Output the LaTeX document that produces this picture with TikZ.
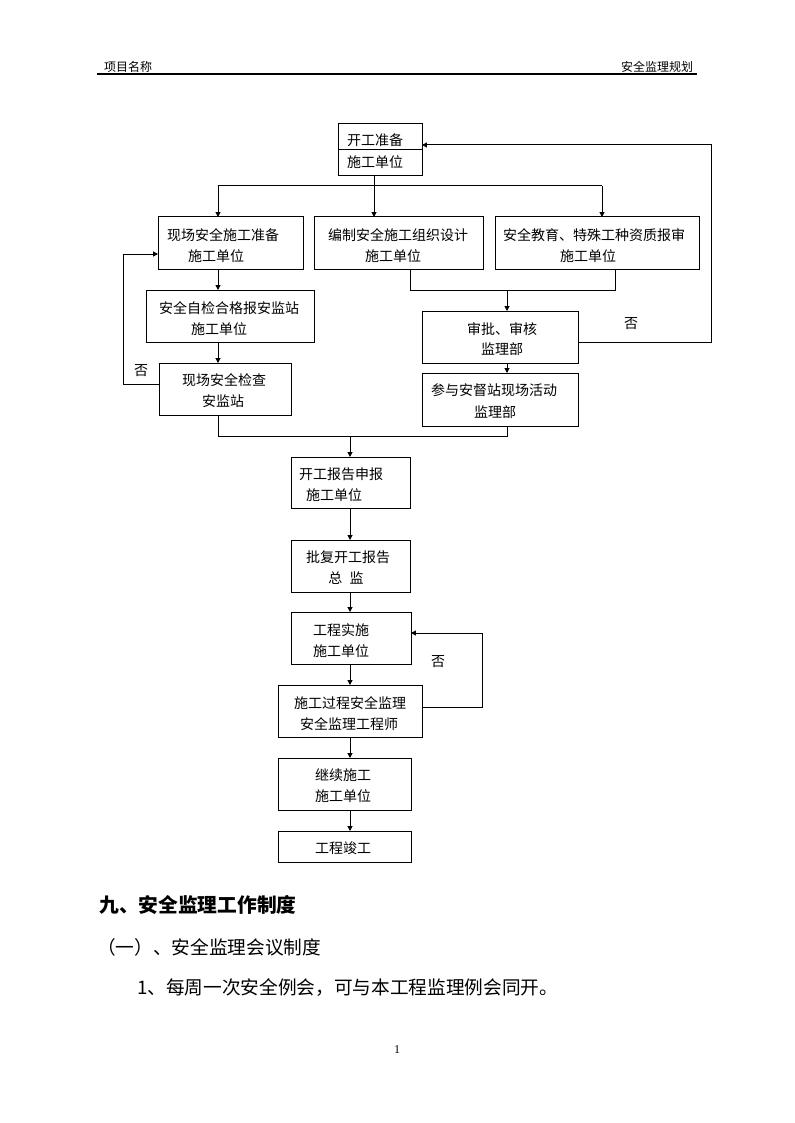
\documentclass[tikz,border=0pt]{standalone}
\usepackage{fontspec}
\setmainfont{Liberation Serif}
\newfontfamily\cjk{Noto Sans CJK SC}
\usetikzlibrary{arrows.meta}
\newcommand\bx[5]{\node[box, minimum width={(#4-#2)*0.75pt}, minimum height={(#5-#3)*0.75pt}] (#1) at ({(#2+#4)/2},{(#3+#5)/2}) {};}
\newcommand\tx[4]{\node[lbl] (#1) at (#2,#3) {#4};}
\begin{document}
\begin{tikzpicture}[x=0.75pt,y=-0.75pt,
  box/.style={draw, line width=0.75pt, inner sep=0pt, outer sep=0pt},
  lbl/.style={font=\cjk\fontsize{10.5pt}{12pt}\selectfont, inner sep=0pt},
  hdr/.style={font=\cjk\fontsize{9pt}{11pt}\selectfont, inner sep=0pt},
  body/.style={font=\cjk\fontsize{14pt}{16pt}\selectfont, inner sep=0pt, anchor=west},
  ln/.style={line width=0.75pt},
  arr/.style={ln, -{Triangle[length=3.6pt,width=3.6pt]}}]
\useasboundingbox (0,0) rectangle (794,1123);
\fill[white] (0,0) rectangle (794,1123);

% header
\node[hdr] (h1) at (128,67) {项目名称};
\node[hdr] (h2) at (657,67) {安全监理规划};
\coordinate (hl) at (97,74);
\coordinate (hr) at (697,74);
\draw[line width=1.1pt] (hl) -- (hr);

% boxes
\bx{A}{338}{124}{422}{176}
\draw[ln] (A.west) -- (A.east);
\tx{tA1}{375}{140}{开工准备}
\tx{tA2}{375}{162}{施工单位}

\bx{B1}{158}{217}{303}{269}
\tx{tB1a}{223}{235}{现场安全施工准备}
\tx{tB1b}{216}{256}{施工单位}
\bx{B2}{314}{217}{483}{269}
\tx{tB2a}{398}{235}{编制安全施工组织设计}
\tx{tB2b}{393}{256}{施工单位}
\bx{B3}{495}{217}{699}{269}
\tx{tB3a}{594}{235}{安全教育、特殊工种资质报审}
\tx{tB3b}{588}{256}{施工单位}

\bx{C1}{146}{290}{314}{342}
\tx{tC1a}{229}{308}{安全自检合格报安监站}
\tx{tC1b}{219}{329}{施工单位}
\bx{C2}{159}{363}{291}{415}
\tx{tC2a}{224}{380}{现场安全检查}
\tx{tC2b}{223}{401}{安监站}

\bx{D1}{422}{311}{578}{363}
\tx{tD1a}{502}{329}{审批、审核}
\tx{tD1b}{502}{349}{监理部}
\bx{D2}{422}{373}{578}{426}
\tx{tD2a}{494}{390}{参与安督站现场活动}
\tx{tD2b}{495}{412}{监理部}

\bx{E1}{291}{457}{410}{508}
\tx{tE1a}{341}{474}{开工报告申报}
\tx{tE1b}{334}{495}{施工单位}
\bx{E2}{291}{540}{410}{592}
\tx{tE2a}{348}{557}{批复开工报告}
\tx{tE2b}{346}{578}{总\hspace{5.5pt}监}
\bx{E3}{291}{612}{411}{664}
\tx{tE3a}{341}{630}{工程实施}
\tx{tE3b}{341}{651}{施工单位}
\bx{E4}{278}{685}{422}{737}
\tx{tE4a}{350}{703}{施工过程安全监理}
\tx{tE4b}{349}{724}{安全监理工程师}
\bx{E5}{278}{758}{411}{810}
\tx{tE5a}{343}{775}{继续施工}
\tx{tE5b}{343}{796}{施工单位}
\bx{E6}{278}{831}{411}{862}
\tx{tE6}{343}{848}{工程竣工}

% connectors
\coordinate (jA) at (374,186);
\coordinate (jL) at (218,186);
\coordinate (jR) at (602,186);
\draw[ln] (A.south -| jA) -- (jA);
\draw[ln] (jL) -- (jR);
\draw[arr] (jL) -- (jL |- B1.north);
\draw[arr] (jA) -- (jA |- B2.north);
\draw[arr] (jR) -- (jR |- B3.north);
\draw[arr] (B1.south -| jL) -- (C1.north -| jL);
\draw[arr] (C1.south -| jL) -- (C2.north -| jL);

\coordinate (k2) at (410,290);
\coordinate (k3) at (615,290);
\coordinate (kM) at (507,290);
\draw[ln] (B2.south -| k2) -- (k2) -- (k3) -- (B3.south -| k3);
\draw[arr] (kM) -- (D1.north -| kM);
\draw[arr] (D1.south -| kM) -- (D2.north -| kM);

\coordinate (r1) at (711,342);
\coordinate (r2) at (711,145);
\draw[arr] (D1.east |- r1) -- (r1) -- (r2) -- (A.east |- r2);
\node[lbl] (no1) at (631,324) {否};

\coordinate (l1) at (123,384);
\coordinate (l2) at (123,254);
\draw[arr] (C2.west |- l1) -- (l1) -- (l2) -- (B1.west |- l2);
\node[lbl] (no2) at (141,371) {否};

\coordinate (m1) at (218,436);
\coordinate (m2) at (507,436);
\coordinate (mM) at (350,436);
\draw[ln] (C2.south -| m1) -- (m1) -- (m2) -- (D2.south -| m2);
\draw[arr] (mM) -- (E1.north -| mM);
\draw[arr] (E1.south -| mM) -- (E2.north -| mM);
\draw[arr] (E2.south -| mM) -- (E3.north -| mM);
\draw[arr] (E3.south -| mM) -- (E4.north -| mM);
\draw[arr] (E4.south -| mM) -- (E5.north -| mM);
\draw[arr] (E5.south -| mM) -- (E6.north -| mM);

\coordinate (e1) at (482,707);
\coordinate (e2) at (482,633);
\draw[arr] (E4.east |- e1) -- (e1) -- (e2) -- (E3.east |- e2);
\node[lbl] (no3) at (438,662) {否};

% body text
\node[body, font=\cjk\bfseries\fontsize{14.8pt}{17pt}\selectfont] (s1) at (99,905) {九、安全监理工作制度};
\node[body] (s2) at (97,947) {（一）、安全监理会议制度};
\node[body] (s3) at (137,988) {1、每周一次安全例会，可与本工程监理例会同开。};

% page number
\node[font=\fontsize{9pt}{11pt}\selectfont, inner sep=0pt] (pg) at (397,1050) {1};
\end{tikzpicture}
\end{document}
